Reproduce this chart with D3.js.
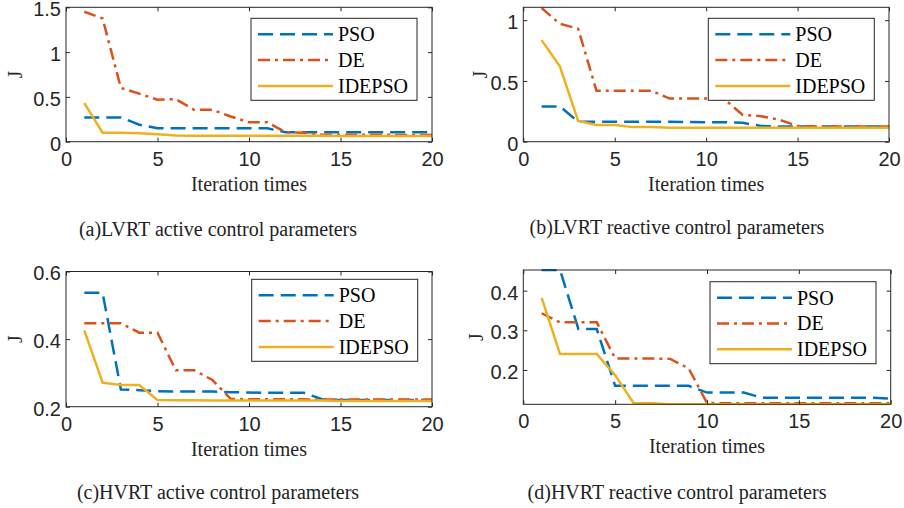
<!DOCTYPE html>
<html>
<head>
<meta charset="utf-8">
<script src="https://cdn.jsdelivr.net/npm/d3@7"></script>
<style>
  body { margin: 0; background: #fff; }
  svg { display: block; }
</style>
</head>
<body>
<svg id="fig" width="904" height="508"></svg>
<script>
// iteration numbers (x) shared by all four panels
var iterations = [1,2,3,4,5,6,7,8,9,10,11,12,13,14,15,16,17,18,19,20]
var seriesNames = ['PSO', 'DE', 'IDEPSO']

// (a) LVRT active
var psoA    = [0.27,0.27,0.27,0.19,0.15,0.15,0.15,0.15,0.15,0.15,0.15,0.105,0.105,0.105,0.105,0.105,0.105,0.105,0.105,0.105]
var deA     = [1.45,1.375,0.60,0.536,0.469,0.475,0.356,0.356,0.281,0.216,0.217,0.105,0.10,0.078,0.077,0.077,0.077,0.076,0.076,0.076]
var idepsoA = [0.43,0.10,0.10,0.095,0.083,0.068,0.067,0.067,0.067,0.066,0.066,0.066,0.066,0.066,0.065,0.065,0.065,0.065,0.065,0.065]

// (b) LVRT reactive
var psoB    = [0.29,0.29,0.165,0.165,0.165,0.165,0.165,0.165,0.162,0.16,0.16,0.155,0.13,0.125,0.125,0.125,0.125,0.125,0.125,0.125]
var deB     = [1.10,0.97,0.93,0.42,0.42,0.42,0.42,0.355,0.355,0.355,0.35,0.22,0.21,0.18,0.13,0.125,0.125,0.125,0.125,0.125]
var idepsoB = [0.836,0.62,0.17,0.137,0.137,0.12,0.12,0.115,0.115,0.115,0.115,0.115,0.115,0.115,0.115,0.115,0.115,0.115,0.115,0.115]

// (c) HVRT active
var psoC    = [0.537,0.537,0.251,0.249,0.246,0.245,0.245,0.245,0.243,0.242,0.241,0.241,0.241,0.222,0.22,0.22,0.22,0.22,0.22,0.219]
var deC     = [0.447,0.447,0.447,0.419,0.419,0.308,0.308,0.279,0.223,0.222,0.222,0.222,0.222,0.221,0.221,0.221,0.221,0.221,0.221,0.221]
var idepsoC = [0.426,0.271,0.264,0.264,0.22,0.219,0.219,0.218,0.218,0.218,0.218,0.218,0.218,0.218,0.217,0.217,0.217,0.217,0.217,0.217]

// (d) HVRT reactive
var psoD    = [0.452,0.452,0.303,0.303,0.16,0.16,0.16,0.16,0.16,0.143,0.143,0.143,0.13,0.13,0.13,0.13,0.13,0.13,0.13,0.128]
var deD     = [0.343,0.32,0.32,0.32,0.229,0.229,0.229,0.228,0.204,0.117,0.116,0.116,0.116,0.116,0.116,0.116,0.116,0.116,0.116,0.116]
var idepsoD = [0.382,0.24,0.24,0.24,0.187,0.117,0.116,0.1135,0.1135,0.1135,0.1135,0.1135,0.1135,0.1135,0.1135,0.1135,0.1135,0.1135,0.1135,0.1135]

var xTicks = [0,5,10,15,20]
var yTicksA = [0,0.5,1,1.5]
var yTicksB = [0,0.5,1]
var yTicksC = [0.2,0.4,0.6]
var yTicksD = [0.2,0.3,0.4]

var captions = ['(a)LVRT active control parameters', '(b)LVRT reactive control parameters',
                '(c)HVRT active control parameters', '(d)HVRT reactive control parameters']

var colors = ['#0072BD', '#D95319', '#EDB120']
var dashes = ['15,7', '12,5,3,5', null]

var svg = d3.select('#fig')
var axisColor = '#262626'
var serif = '"Liberation Serif", "Times New Roman", serif'
var sans = '"Liberation Sans", Arial, sans-serif'

var panels = [
  {box:[66, 7.3, 432, 141.7], ydom:[0, 1.5], yt:yTicksA, data:[psoA, deA, idepsoA], cap:[218, 236], leg:[251, 18.3], jx:15},
  {box:[523.3, 7.3, 889, 141.7], ydom:[0, 1.106], yt:yTicksB, data:[psoB, deB, idepsoB], cap:[677, 234], leg:[708.3, 18.3], jx:480},
  {box:[66, 271.5, 432, 406.7], ydom:[0.2, 0.6], yt:yTicksC, data:[psoC, deC, idepsoC], cap:[218, 499], leg:[251.7, 279.3], jx:15},
  {box:[523.3, 270, 890.7, 404.3], ydom:[0.1135, 0.452], yt:yTicksD, data:[psoD, deD, idepsoD], cap:[677, 499], leg:[710, 281.7], jx:476}
]

panels.forEach(function(p, k){
  var x0 = p.box[0], y0 = p.box[1], x1 = p.box[2], y1 = p.box[3]
  var x = d3.scaleLinear().domain([0, 20]).range([x0, x1])
  var y = d3.scaleLinear().domain(p.ydom).range([y1, y0])
  var g = svg.append('g')

  g.append('rect')
    .attr('x', x0).attr('y', y0)
    .attr('width', x1 - x0).attr('height', y1 - y0)
    .style('fill', '#fff')

  var clipId = 'clip' + k
  g.append('clipPath').attr('id', clipId)
    .append('rect')
    .attr('x', x0).attr('y', y0 - 1)
    .attr('width', x1 - x0).attr('height', y1 - y0 + 2)

  var line = d3.line()
    .x(function(d, i){ return x(iterations[i]) })
    .y(function(d){ return y(d) })

  var lines = g.append('g').attr('clip-path', 'url(#' + clipId + ')')
  p.data.forEach(function(s, j){
    lines.append('path')
      .attr('d', line(s))
      .style('fill', 'none')
      .style('stroke', colors[j])
      .style('stroke-width', 2.5)
      .style('stroke-dasharray', dashes[j])
  })

  // axes with inward ticks on all four sides
  var bottom = d3.axisBottom(x).tickValues(xTicks).tickSizeInner(-4).tickSizeOuter(0).tickPadding(10)
  var top = d3.axisTop(x).tickValues(xTicks).tickSizeInner(-4).tickSizeOuter(0).tickFormat('')
  var left = d3.axisLeft(y).tickValues(p.yt).tickSizeInner(-4).tickSizeOuter(0).tickPadding(5)
    .tickFormat(function(d){ return d3.format('~g')(d) })
  var right = d3.axisRight(y).tickValues(p.yt).tickSizeInner(-4).tickSizeOuter(0).tickFormat('')

  var axes = [
    g.append('g').attr('transform', 'translate(0,' + y1 + ')').call(bottom),
    g.append('g').attr('transform', 'translate(0,' + y0 + ')').call(top),
    g.append('g').attr('transform', 'translate(' + x0 + ',0)').call(left),
    g.append('g').attr('transform', 'translate(' + x1 + ',0)').call(right)
  ]
  axes.forEach(function(a){
    a.select('.domain').remove()
    a.selectAll('line').style('stroke', axisColor).style('stroke-width', 1)
    a.selectAll('text').style('font-family', sans).style('font-size', '20px').style('fill', axisColor)
  })
  // nudge y tick labels down a hair, as in the original
  axes[2].selectAll('text').attr('dy', '0.42em')

  g.append('rect')
    .attr('x', x0).attr('y', y0)
    .attr('width', x1 - x0).attr('height', y1 - y0)
    .style('fill', 'none').style('stroke', axisColor).style('stroke-width', 1)

  // axis labels
  g.append('text')
    .attr('x', (x0 + x1) / 2).attr('y', y1 + 49)
    .attr('text-anchor', 'middle')
    .style('font-family', serif).style('font-size', '20px').style('fill', axisColor)
    .text('Iteration times')
  g.append('text')
    .attr('transform', 'translate(' + (p.jx + 7) + ',' + ((y0 + y1) / 2) + ') rotate(-90)')
    .attr('text-anchor', 'middle')
    .style('font-family', serif).style('font-size', '20px').style('fill', axisColor)
    .text('J')

  // legend
  var lx = p.leg[0], ly = p.leg[1]
  var leg = g.append('g').attr('transform', 'translate(' + lx + ',' + ly + ')')
  leg.append('rect')
    .attr('width', 166).attr('height', 82)
    .style('fill', '#fff').style('stroke', axisColor).style('stroke-width', 1)
  seriesNames.forEach(function(name, j){
    var ry = 16 + j * 25.8
    leg.append('line')
      .attr('x1', 7).attr('x2', 82).attr('y1', ry).attr('y2', ry)
      .style('stroke', colors[j]).style('stroke-width', 2.5)
      .style('stroke-dasharray', dashes[j])
    leg.append('text')
      .attr('x', 87).attr('y', ry + 7)
      .style('font-family', serif).style('font-size', '20px').style('fill', '#000')
      .text(name)
  })

  // caption under the panel
  svg.append('text')
    .attr('x', p.cap[0]).attr('y', p.cap[1])
    .attr('text-anchor', 'middle')
    .style('font-family', serif).style('font-size', '20px').style('fill', '#222')
    .text(captions[k])
})
</script>
</body>
</html>
